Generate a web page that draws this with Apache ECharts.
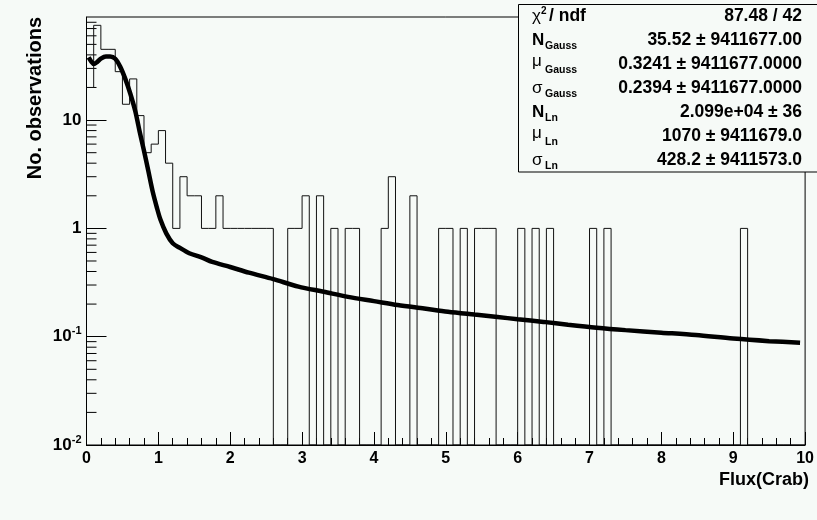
<!DOCTYPE html>
<html>
<head>
<meta charset="utf-8">
<script src="https://cdn.jsdelivr.net/npm/echarts@6/dist/echarts.min.js"></script>
<style>
html, body { margin: 0; padding: 0; background: #f6faf7; }
#chart { width: 817px; height: 520px; }
</style>
</head>
<body>
<div id="chart"></div>
<script>
// histogram, 100 bins of 0.1 Crab from 0 to 10
var binWidth = 0.1;
var counts = [
  20, 75, 45, 45, 28, 14, 24, 11, 5, 6,
  8, 4, 1, 3, 2, 2, 1, 1, 2, 1,
  1, 1, 1, 1, 1, 1, 0, 0, 1, 1,
  2, 0, 2, 0, 1, 0, 1, 1, 0, 0,
  0, 1, 3, 0, 0, 2, 0, 0, 0, 1,
  1, 0, 1, 0, 1, 1, 1, 0, 0, 0,
  1, 0, 1, 0, 1, 0, 0, 0, 0, 0,
  1, 0, 1, 0, 0, 0, 0, 0, 0, 0,
  0, 0, 0, 0, 0, 0, 0, 0, 0, 0,
  0, 1, 0, 0, 0, 0, 0, 0, 0, 0
];

// fitted function (gauss + log-normal)
var fitX = [0.03, 0.07, 0.10, 0.15, 0.20, 0.27, 0.33, 0.40, 0.47, 0.54, 0.61, 0.68, 0.74, 0.80, 0.86, 0.92, 0.98, 1.03, 1.11, 1.20, 1.30, 1.43, 1.60, 1.75, 2.00, 2.26, 2.60, 2.95, 3.30, 3.64, 4.00, 4.33, 4.70, 5.03, 5.40, 5.72, 6.00, 6.36, 6.70, 7.10, 7.50, 8.00, 8.48, 9.00, 9.50, 9.93];
var fitY = [38, 34.5, 33, 34.5, 37, 38.7, 38.7, 36.8, 31, 24, 17.5, 12, 7.8, 5.2, 3.4, 2.2, 1.55, 1.2, 0.90, 0.73, 0.66, 0.59, 0.54, 0.49, 0.44, 0.39, 0.34, 0.29, 0.26, 0.233, 0.213, 0.196, 0.182, 0.170, 0.160, 0.152, 0.145, 0.137, 0.129, 0.121, 0.115, 0.109, 0.1035, 0.096, 0.091, 0.088];

var yMin = 0.01;
var yMax = 89.5;
var yMinorTicks = [0.02, 0.03, 0.04, 0.05, 0.06, 0.07, 0.08, 0.09,
  0.2, 0.3, 0.4, 0.5, 0.6, 0.7, 0.8, 0.9,
  2, 3, 4, 5, 6, 7, 8, 9,
  20, 30, 40, 50, 60, 70, 80];

// fit results box
var statNames = ['\u03c7', 'N', '\u03bc', '\u03c3', 'N', '\u03bc', '\u03c3'];
var statSubs = ['', 'Gauss', 'Gauss', 'Gauss', 'Ln', 'Ln', 'Ln'];
var statValues = ['87.48 / 42', '35.52 \u00b1 9411677.00', '0.3241 \u00b1 9411677.0000', '0.2394 \u00b1 9411677.0000',
  '2.099e+04 \u00b1 36', '1070 \u00b1 9411679.0', '428.2 \u00b1 9411573.0'];

var FONT = '"Liberation Sans", Arial, Helvetica, sans-serif';
var BG = '#f6faf7';

var histData = counts.map(function (c, i) {
  return [i * binWidth, c > 0 ? c : yMin];
});
histData.push([counts.length * binWidth, counts[counts.length - 1] > 0 ? counts[counts.length - 1] : yMin]);

var fitData = fitX.map(function (x, i) { return [x, fitY[i]]; });

// stats box texts
var graphics = [{
  type: 'rect', z: 100,
  shape: { x: 518.5, y: 4.5, width: 310, height: 167.5 },
  style: { fill: BG, stroke: '#000', lineWidth: 1 }
}];
for (var i = 0; i < statNames.length; i++) {
  var rowY = 16 + 24 * i;
  var bold = statNames[i] === 'N';
  graphics.push({
    type: 'text', z: 101, x: 532, y: statNames[i] === '\u03bc' ? rowY - 3 : rowY,
    style: { text: statNames[i], font: (bold ? 'bold ' : '') + '17px ' + FONT, fill: '#000', verticalAlign: 'middle' }
  });
  if (statSubs[i]) {
    graphics.push({
      type: 'text', z: 101, x: 545, y: rowY + 6,
      style: { text: statSubs[i], font: 'bold 10.5px ' + FONT, fill: '#000', verticalAlign: 'middle' }
    });
  }
  graphics.push({
    type: 'text', z: 101, x: 802, y: rowY,
    style: { text: statValues[i], font: 'bold 17.5px ' + FONT, fill: '#000', align: 'right', verticalAlign: 'middle' }
  });
}
graphics.push({
  type: 'text', z: 101, x: 541, y: 11,
  style: { text: '2', font: 'bold 10px ' + FONT, fill: '#000', verticalAlign: 'middle' }
});
graphics.push({
  type: 'text', z: 101, x: 549, y: 16,
  style: { text: '/ ndf', font: 'bold 17.5px ' + FONT, fill: '#000', verticalAlign: 'middle' }
});
// axis titles
graphics.push({
  type: 'text', x: 35, y: 17, rotation: Math.PI / 2,
  style: { text: 'No. observations', font: 'bold 20px ' + FONT, fill: '#000', align: 'right', verticalAlign: 'middle' }
});
graphics.push({
  type: 'text', x: 809, y: 480,
  style: { text: 'Flux(Crab)', font: 'bold 18px ' + FONT, fill: '#000', align: 'right', verticalAlign: 'middle' }
});

var myChart = echarts.init(document.getElementById('chart'));
var option = {
  backgroundColor: BG,
  animation: false,
  grid: {
    left: 86.5, top: 17, right: 6.5, bottom: 75,
    show: true, borderColor: '#000', borderWidth: 1, backgroundColor: 'transparent'
  },
  xAxis: {
    type: 'value', min: 0, max: 10, interval: 1,
    axisLine: { lineStyle: { color: '#000', width: 1 } },
    axisTick: { inside: true, length: 13, lineStyle: { color: '#000' } },
    minorTick: { show: true, splitNumber: 5, length: 7, lineStyle: { color: '#000' } },
    splitLine: { show: false },
    axisLabel: { color: '#000', fontFamily: FONT, fontWeight: 'bold', fontSize: 16, margin: 6 }
  },
  yAxis: {
    type: 'log', logBase: 10, min: yMin, max: yMax,
    axisLine: { show: true, lineStyle: { color: '#000', width: 1 } },
    axisTick: { show: true, inside: true, length: 20, lineStyle: { color: '#000' } },
    splitLine: { show: false },
    axisLabel: {
      color: '#000', fontFamily: FONT, fontWeight: 'bold', fontSize: 17, margin: 5,
      showMaxLabel: false,
      formatter: function (v) {
        var e = Math.round(Math.log(v) / Math.LN10);
        if (e === 0) return '1';
        if (e === 1) return '10';
        return '{b|10}{s|' + e + '}';
      },
      rich: {
        b: { color: '#000', fontFamily: FONT, fontWeight: 'bold', fontSize: 17 },
        s: { color: '#000', fontFamily: FONT, fontWeight: 'bold', fontSize: 11, padding: [0, 0, 11, 0] }
      }
    }
  },
  series: [
    {
      // minor ticks of the log axis at 2..9 of each decade
      type: 'custom',
      silent: true,
      clip: false,
      data: yMinorTicks.map(function (v) { return [0, v]; }),
      renderItem: function (params, api) {
        var p = api.coord([0, api.value(1)]);
        return {
          type: 'line',
          shape: { x1: p[0], y1: p[1], x2: p[0] + 10, y2: p[1] },
          style: { stroke: '#000', lineWidth: 1 }
        };
      },
      z: 1
    },
    {
      name: 'hist',
      type: 'line',
      step: 'end',
      data: histData,
      symbol: 'none',
      lineStyle: { color: '#111', width: 1 },
      z: 2
    },
    {
      name: 'fit',
      type: 'line',
      smooth: 0.3,
      data: fitData,
      symbol: 'none',
      lineStyle: { color: '#000', width: 4.5 },
      z: 3
    }
  ],
  graphic: graphics
};
myChart.setOption(option);
</script>
</body>
</html>
